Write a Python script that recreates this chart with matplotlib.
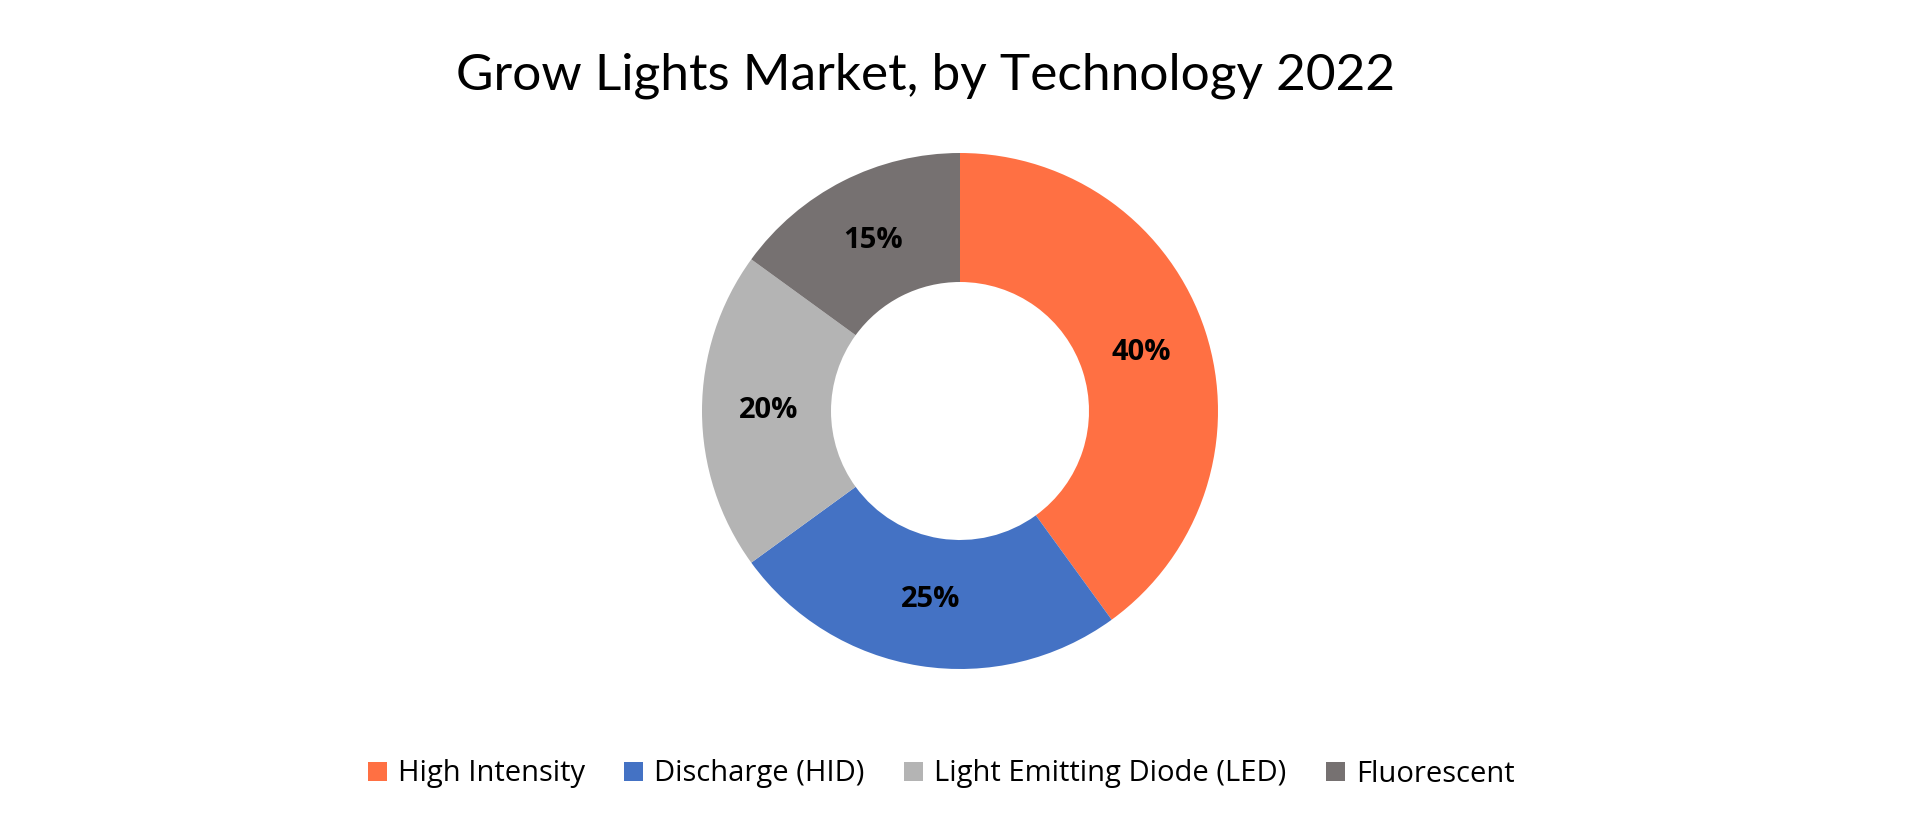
import matplotlib
matplotlib.use('Agg')
import matplotlib.pyplot as plt

# Grow lights market share by technology, 2022
labels = ['High Intensity', 'Discharge (HID)', 'Light Emitting Diode (LED)', 'Fluorescent']
shares = [40, 25, 20, 15]
colors = ['#FF7043', '#4472C4', '#B4B4B4', '#767171']

W, H, DPI = 1920, 818, 100
fig = plt.figure(figsize=(W / DPI, H / DPI), dpi=DPI)

# donut axes: center ~ (960, 411) px, outer radius ~258 px
cx, cy, r = 960, 411, 258
ax = fig.add_axes([(cx - r) / W, (H - cy - r) / H, 2 * r / W, 2 * r / H])
wedges, _, autotexts = ax.pie(
    shares, colors=colors, startangle=90, counterclock=False, radius=1.0,
    wedgeprops=dict(width=0.5, edgecolor='none'),
    autopct=lambda p: f'{p:.0f}%', pctdistance=0.74,
    textprops=dict(fontsize=21, fontweight='bold', family='Open Sans', color='black'))
ax.set_xlim(-1, 1)
ax.set_ylim(-1, 1)
ax.set_aspect('equal')
ax.axis('off')

fig.text(926 / W, 1 - 76 / H, 'Grow Lights Market, by Technology 2022',
         ha='center', va='center', fontsize=37, family='Lato', color='black')

fig.legend(wedges, labels, loc='center', bbox_to_anchor=(941 / W, 1 - 774 / H),
           ncol=4, frameon=False, handlelength=0.65, handleheight=0.65,
           handletextpad=0.38, columnspacing=1.35,
           prop=dict(family='Open Sans', size=21))

fig.savefig('out.png', dpi=DPI)
